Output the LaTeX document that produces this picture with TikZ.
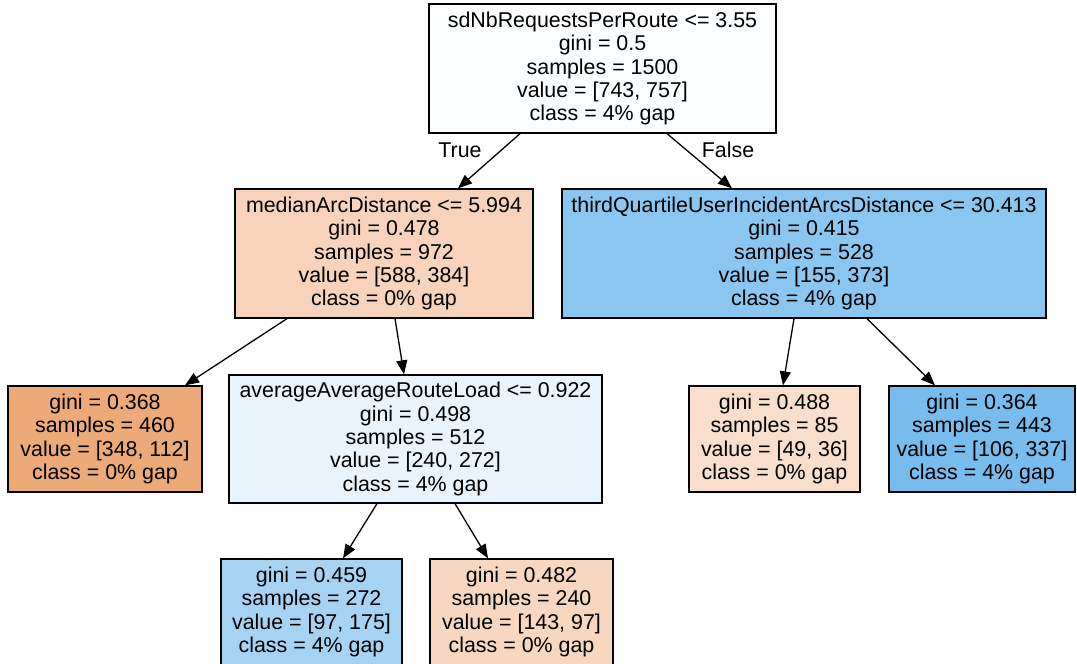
\documentclass[tikz,border=0pt]{standalone}
\usepackage{fontspec}
\setmainfont{Liberation Sans}
\usetikzlibrary{arrows.meta}
\definecolor{cRoot}{RGB}{251,253,254}
\definecolor{cLeftA}{RGB}{246,211,186}
\definecolor{cRightA}{RGB}{139,198,240}
\definecolor{cLeafA}{RGB}{237,170,121}
\definecolor{cAvg}{RGB}{232,243,252}
\definecolor{cLeafB}{RGB}{248,222,203}
\definecolor{cLeafC}{RGB}{119,188,237}
\definecolor{cLeafD}{RGB}{167,211,243}
\definecolor{cLeafE}{RGB}{247,215,191}
\begin{document}
\begin{tikzpicture}[x=1pt,y=1pt,
  box/.style={draw=black, line width=1.3pt, rectangle, inner sep=0pt, align=center,
    font=\fontsize{21.4}{23.4}\selectfont},
  split/.style={box, minimum height=129pt},
  leaf/.style={box, minimum height=106pt},
  edge/.style={line width=1.3pt, -{Triangle[length=14pt,width=11pt]}},
  lbl/.style={font=\fontsize{21.4}{23.4}\selectfont, inner sep=0pt}]
\useasboundingbox (0,0) rectangle (1077,664);
\node[split, minimum width=347pt, fill=cRoot] (root) at (602.5,595.5)
  {sdNbRequestsPerRoute <= 3.55\\gini = 0.5\\samples = 1500\\value = [743, 757]\\class = 4\% gap};
\node[split, minimum width=298pt, fill=cLeftA] (left1) at (384,410.5)
  {medianArcDistance <= 5.994\\gini = 0.478\\samples = 972\\value = [588, 384]\\class = 0\% gap};
\node[split, minimum width=484pt, fill=cRightA] (right1) at (804,410.5)
  {thirdQuartileUserIncidentArcsDistance <= 30.413\\gini = 0.415\\samples = 528\\value = [155, 373]\\class = 4\% gap};
\node[leaf, minimum width=194pt, fill=cLeafA] (leafA) at (105,225)
  {gini = 0.368\\samples = 460\\value = [348, 112]\\class = 0\% gap};
\node[split, minimum width=373pt, minimum height=128pt, fill=cAvg] (avg) at (415.5,225)
  {averageAverageRouteLoad <= 0.922\\gini = 0.498\\samples = 512\\value = [240, 272]\\class = 4\% gap};
\node[leaf, minimum width=171pt, fill=cLeafB] (leafB) at (774.5,225)
  {gini = 0.488\\samples = 85\\value = [49, 36]\\class = 0\% gap};
\node[leaf, minimum width=186pt, fill=cLeafC] (leafC) at (982,225)
  {gini = 0.364\\samples = 443\\value = [106, 337]\\class = 4\% gap};
\node[leaf, minimum width=181pt, fill=cLeafD] (leafD) at (311.5,52)
  {gini = 0.459\\samples = 272\\value = [97, 175]\\class = 4\% gap};
\node[leaf, minimum width=183pt, fill=cLeafE] (leafE) at (521.5,52)
  {gini = 0.482\\samples = 240\\value = [143, 97]\\class = 0\% gap};
\draw[edge] ([xshift=-82.5pt]root.south) -- ([xshift=74pt]left1.north);
\draw[edge] ([xshift=64.5pt]root.south) -- ([xshift=-72pt]right1.north);
\draw[edge] ([xshift=-97pt]left1.south) -- ([xshift=80pt]leafA.north);
\draw[edge] ([xshift=11pt]left1.south) -- ([xshift=-11.5pt]avg.north);
\draw[edge] ([xshift=-38.5pt]avg.south) -- ([xshift=31.5pt]leafD.north);
\draw[edge] ([xshift=39.5pt]avg.south) -- ([xshift=-33.5pt]leafE.north);
\draw[edge] ([xshift=-10pt]right1.south) -- ([xshift=8.5pt]leafB.north);
\draw[edge] ([xshift=63pt]right1.south) -- ([xshift=-47pt]leafC.north);
\node[lbl] (tlabel) at (460,514) {True};
\node[lbl] (flabel) at (728,514) {False};
\end{tikzpicture}
\end{document}
